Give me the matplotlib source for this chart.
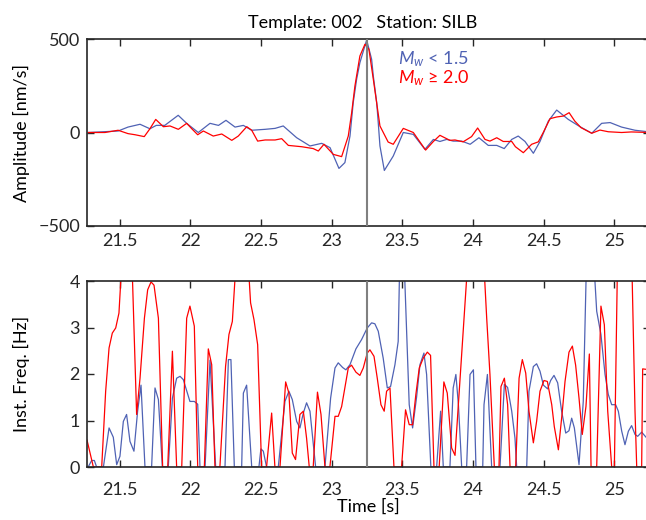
import numpy as np
import matplotlib
matplotlib.use("Agg")
import matplotlib.pyplot as plt
from matplotlib.ticker import FormatStrFormatter

plt.rcParams['font.family'] = ['Lato', 'DejaVu Sans']
plt.rcParams['mathtext.fontset'] = 'custom'
plt.rcParams['mathtext.it'] = 'Lato:italic'
plt.rcParams['mathtext.rm'] = 'Lato'

BLUE = '#4f62b4'
RED = '#ff0000'
PICK = 23.25

# amplitude traces (time [s], amplitude [nm/s])
t_amp_small = [21.28, 21.49, 21.56, 21.645, 21.715, 21.76, 21.82, 21.915, 21.975, 22.057,
               22.14, 22.20, 22.253, 22.317, 22.376, 22.435, 22.53, 22.6, 22.658, 22.753,
               22.847, 22.93, 22.989, 23.052, 23.094, 23.13, 23.153, 23.177, 23.20, 23.248,
               23.283, 23.295, 23.319, 23.33, 23.342, 23.373, 23.436, 23.507, 23.578, 23.66,
               23.72, 23.766, 23.814, 23.86, 23.92, 23.98, 24.042, 24.108, 24.168, 24.221,
               24.274, 24.32, 24.368, 24.427, 24.474, 24.533, 24.592, 24.674, 24.757, 24.84,
               24.91, 24.97, 25.051, 25.146, 25.25]
amp_small = [0, 8, 29, 44, 20, 38, 38, 92, 49, 0,
             49, 38, 65, 29, 38, 12, 17, 22, 35, -28,
             -72, -58, -81, -192, -161, -19, 160, 285, 373, 495,
             392, 302, 160, 52, -72, -203, -126, 0, -10, -90,
             -37, -48, -37, -46, -46, -63, -28, -69, -69, -86,
             -37, -19, -48, -111, -48, 61, 120, 70, 31, -4,
             49, 53, 29, 12, 3]

t_amp_large = [21.28, 21.397, 21.49, 21.56, 21.61, 21.675, 21.715, 21.756, 21.81, 21.857,
               21.916, 21.975, 22.015, 22.053, 22.093, 22.163, 22.223, 22.294, 22.34, 22.40,
               22.435, 22.477, 22.53, 22.6, 22.647, 22.694, 22.788, 22.87, 22.906, 22.946,
               23.012, 23.071, 23.118, 23.142, 23.165, 23.20, 23.236, 23.264, 23.295, 23.342,
               23.40, 23.436, 23.507, 23.578, 23.665, 23.72, 23.766, 23.837, 23.873, 23.93,
               23.99, 24.033, 24.085, 24.12, 24.168, 24.214, 24.274, 24.30, 24.356, 24.415,
               24.462, 24.497, 24.545, 24.592, 24.639, 24.68, 24.72, 24.764, 24.84, 24.898,
               24.957, 25.051, 25.12, 25.25]
amp_large = [0, 0, 12, -6, -12, -22, 20, 70, 31, 35,
             17, 49, 17, -12, 8, -19, -8, -42, -19, 31,
             12, -46, -40, -40, -33, -69, -76, -86, -99, -63,
             -117, -129, -19, 106, 249, 409, 472, 445, 285, 35,
             -51, -63, 22, 0, -94, -48, -15, -42, -40, -50,
             -22, 24, -37, -46, -28, -48, -48, -76, -108, -63,
             -50, 0, 74, 83, 88, 106, 61, 26, -4, 13,
             4, 0, 3, 0]

# instantaneous frequency (time [s], frequency [Hz])
t_freq_small = [21.28, 21.303, 21.322, 21.338, 21.386, 21.426, 21.456, 21.48, 21.503, 21.527,
                21.55, 21.574, 21.602, 21.628, 21.652, 21.68, 21.727, 21.751, 21.775, 21.803,
                21.845, 21.874, 21.904, 21.928, 21.951, 21.998, 22.029, 22.053, 22.069, 22.105,
                22.14, 22.18, 22.246, 22.27, 22.288, 22.312, 22.364, 22.376, 22.399, 22.435,
                22.486, 22.5, 22.517, 22.54, 22.623, 22.67, 22.698, 22.722, 22.753, 22.776,
                22.8, 22.823, 22.847, 22.887, 22.953, 22.993, 23.024, 23.047, 23.078, 23.101,
                23.13, 23.172, 23.212, 23.252, 23.283, 23.306, 23.33, 23.365, 23.394, 23.417,
                23.448, 23.471, 23.483, 23.511, 23.549, 23.573, 23.601, 23.625, 23.653, 23.672,
                23.702, 23.743, 23.771, 23.79, 23.837, 23.86, 23.879, 23.897, 23.92, 23.955,
                23.979, 24.003, 24.021, 24.069, 24.078, 24.102, 24.132, 24.191, 24.222, 24.245,
                24.274, 24.297, 24.309, 24.38, 24.396, 24.427, 24.45, 24.474, 24.498, 24.528,
                24.549, 24.573, 24.599, 24.627, 24.656, 24.679, 24.698, 24.717, 24.75, 24.78,
                24.804, 24.851, 24.875, 24.905, 24.934, 24.957, 24.981, 25.009, 25.028, 25.052,
                25.075, 25.099, 25.122, 25.146, 25.165, 25.193, 25.224, 25.25]
freq_small = [0.01, 0.14, 0.14, 0, 0, 0.84, 0.64, 0.05, 0.23, 0.98,
              1.13, 0.55, 0.34, 1.2, 1.76, 0, 0, 1.7, 1.45, 0,
              0, 1.48, 1.91, 1.95, 1.88, 1.41, 1.41, 1.35, 0, 0,
              2.3, 0, 0, 2.31, 2.31, 0, 0, 1.59, 1.76, 0,
              0, 0.39, 0.34, 0, 0, 1.41, 1.63, 1.45, 0.98, 0.84,
              1.16, 1.38, 1.2, 0, 0, 1.48, 2.13, 2.24, 2.14, 2.09,
              2.2, 2.54, 2.74, 2.99, 3.1, 3.08, 2.92, 2.34, 1.7, 1.73,
              2.2, 2.7, 4.6, 4.6, 1.34, 0.84, 1.5, 2.2, 2.45, 1.99,
              0, 0, 1.2, 0, 0, 1.7, 1.99, 1.34, 0, 0,
              1.99, 2.09, 0, 0, 1.34, 1.99, 0, 0, 1.78, 1.71,
              1.2, 0.62, 0, 0, 1.63, 2.16, 2.22, 2.06, 1.76, 1.68,
              1.86, 1.97, 1.81, 1.2, 0.73, 0.78, 1.05, 0.84, 0.05, 1.41,
              4.6, 4.6, 3.35, 2.85, 1.99, 1.56, 1.34, 1.34, 1.2, 0.77,
              0.48, 0.77, 0.89, 0.7, 0.66, 0.75, 0.64, 0.6]

t_freq_large = [21.27, 21.315, 21.374, 21.402, 21.426, 21.449, 21.473, 21.496, 21.52, 21.586,
                21.621, 21.645, 21.676, 21.699, 21.723, 21.744, 21.775, 21.805, 21.841, 21.874,
                21.904, 21.94, 21.975, 21.998, 22.029, 22.053, 22.1, 22.128, 22.152, 22.175,
                22.21, 22.25, 22.274, 22.298, 22.328, 22.406, 22.427, 22.451, 22.477, 22.505,
                22.54, 22.576, 22.599, 22.635, 22.675, 22.698, 22.722, 22.745, 22.776, 22.8,
                22.823, 22.842, 22.87, 22.9, 22.925, 22.953, 22.988, 23.024, 23.047, 23.071,
                23.118, 23.141, 23.172, 23.2, 23.224, 23.252, 23.271, 23.3, 23.323, 23.349,
                23.372, 23.389, 23.413, 23.441, 23.495, 23.523, 23.549, 23.573, 23.596, 23.62,
                23.648, 23.677, 23.7, 23.724, 23.761, 23.794, 23.818, 23.849, 23.873, 23.967,
                24.073, 24.097, 24.12, 24.151, 24.184, 24.198, 24.222, 24.245, 24.262, 24.302,
                24.326, 24.349, 24.373, 24.396, 24.427, 24.45, 24.474, 24.502, 24.526, 24.557,
                24.575, 24.604, 24.632, 24.651, 24.679, 24.703, 24.726, 24.75, 24.773, 24.799,
                24.823, 24.835, 24.875, 24.905, 24.929, 24.953, 24.981, 25.0, 25.023, 25.122,
                25.146, 25.158, 25.193, 25.2, 25.25]
freq_large = [0.58, 0, 0, 1.63, 2.56, 2.88, 2.99, 3.31, 4.6, 4.6,
              1.13, 1.91, 3.2, 3.81, 3.98, 3.91, 3.2, 0, 0, 2.49,
              0, 0, 3.2, 3.46, 3.03, 0, 0, 2.54, 2.2, 0,
              0, 2.16, 2.85, 3.13, 4.6, 4.6, 3.53, 3.17, 2.63, 0,
              0, 1.16, 0, 0, 1.83, 1.59, 0.3, 0.16, 1.13, 1.2,
              0.62, 0, 0, 1.61, 1.13, 0, 0, 1.09, 1.09, 1.3,
              2.13, 2.19, 2.04, 1.97, 2.13, 2.45, 2.52, 2.38, 1.91, 1.34,
              1.2, 1.63, 1.7, 0, 0, 1.23, 0.91, 0.91, 1.56, 2.13,
              2.34, 2.47, 2.4, 0, 0, 1.83, 1.59, 0.41, 0.25, 4.6,
              4.6, 3.2, 1.99, 0, 0, 1.73, 1.91, 1.34, 0, 0,
              1.91, 2.31, 2.02, 1.2, 0.52, 0.98, 1.63, 1.86, 1.84, 1.34,
              0.87, 0.37, 1.2, 1.84, 2.47, 2.6, 2.19, 1.48, 0.7, 1.3,
              2.43, 0, 0, 3.46, 3.06, 1.2, 0, 0, 4.6, 4.6,
              1.2, 0, 0, 2.11, 2.09]

fig = plt.figure(figsize=(6.46, 5.2), dpi=100)
W, H = 646.0, 520.0
x0, x1 = 87, 650
ax1 = fig.add_axes([x0 / W, 1 - 226 / H, (x1 - x0) / W, 187 / H])
ax2 = fig.add_axes([x0 / W, 1 - 467 / H, (x1 - x0) / W, 186 / H])

xlim = (21.27, 25.252)

ax1.plot(t_amp_small, amp_small, color=BLUE, lw=0.9)
ax1.plot(t_amp_large, amp_large, color=RED, lw=0.9)
ax1.set_ylim(-500, 500)
ax1.set_yticks([-500, 0, 500])
ax1.set_ylabel('Amplitude [nm/s]', fontsize=13)
ax1.text(23.47, 390, r'$M_w$ < 1.5', color=BLUE, fontsize=13, va='center')
ax1.text(23.47, 290, r'$M_w$ ≥ 2.0', color=RED, fontsize=13, va='center')
ax1.set_title('Template: 002   Station: SILB', fontsize=13, pad=8, x=0.49)

ax2.plot(t_freq_small, freq_small, color=BLUE, lw=0.9)
ax2.plot(t_freq_large, freq_large, color=RED, lw=0.9)
ax2.set_ylim(0, 4)
ax2.set_yticks([0, 1, 2, 3, 4])
ax2.set_ylabel('Inst. Freq. [Hz]', fontsize=13)
ax2.set_xlabel('Time [s]', fontsize=13, labelpad=0)

for ax in (ax1, ax2):
    ax.axvline(PICK, color='#808080', lw=1.5, zorder=3)
    ax.set_xlim(*xlim)
    ax.set_xticks([21.5, 22, 22.5, 23, 23.5, 24, 24.5, 25])
    ax.xaxis.set_major_formatter(FormatStrFormatter('%g'))
    ax.tick_params(direction='in', top=True, right=True, length=5, width=1,
                   color='#262626', labelsize=13, labelcolor='#262626', pad=5)
    ax.yaxis.set_label_coords(-0.101, 0.5)
    for s in ax.spines.values():
        s.set_linewidth(1.2)
        s.set_color('#262626')
ax2.tick_params(axis='x', pad=11)

fig.savefig('out.png', dpi=100)
